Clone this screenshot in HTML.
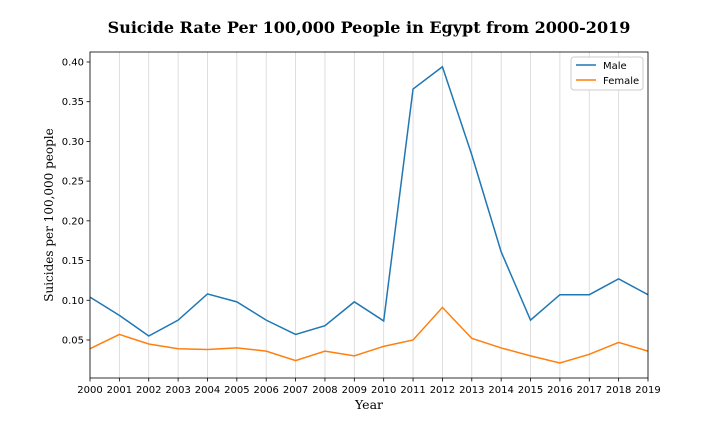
<!DOCTYPE html>
<html><head><meta charset="utf-8"><style>
body{margin:0;background:#fff;width:720px;height:432px;overflow:hidden}
text{font-family:"DejaVu Sans","Liberation Sans",sans-serif}
</style></head><body>
<svg id="chart" width="720" height="432" xmlns="http://www.w3.org/2000/svg">
<text x="369" y="33" text-anchor="middle" style="font-family:'DejaVu Serif','Liberation Serif',serif" font-size="16" font-weight="bold">Suicide Rate Per 100,000 People in Egypt from 2000-2019</text>
<g id="grid"></g><g id="series"></g><g id="axes"></g>
<text x="369" y="409" text-anchor="middle" style="font-family:'DejaVu Serif','Liberation Serif',serif" font-size="12.5">Year</text>
<text transform="translate(53,215) rotate(-90)" text-anchor="middle" style="font-family:'DejaVu Serif','Liberation Serif',serif" font-size="12">Suicides per 100,000 people</text>
<g>
<rect x="571" y="57" width="72" height="33" rx="3" fill="#fff" stroke="#ccc"/>
<line x1="576" y1="65" x2="596" y2="65" stroke="#1f77b4" stroke-width="1.5"/>
<text x="603" y="69" font-size="10">Male</text>
<line x1="576" y1="80" x2="596" y2="80" stroke="#ff7f0e" stroke-width="1.5"/>
<text x="603" y="84" font-size="10">Female</text>
</g>
</svg>
<script>
const years=[2000,2001,2002,2003,2004,2005,2006,2007,2008,2009,2010,2011,2012,2013,2014,2015,2016,2017,2018,2019];
const male=[0.104,0.081,0.055,0.075,0.108,0.098,0.075,0.057,0.068,0.098,0.074,0.366,0.394,0.283,0.161,0.075,0.107,0.107,0.127,0.107];
const female=[0.039,0.057,0.045,0.039,0.038,0.040,0.036,0.024,0.036,0.030,0.042,0.050,0.091,0.052,0.040,0.030,0.021,0.032,0.047,0.036];
const yTicks=[0.05,0.10,0.15,0.20,0.25,0.30,0.35,0.40];
const L=90,R=648,T=52,B=378;
const x=v=>L+(v-2000)*(R-L)/19;
const y=v=>379.7-v*794.3;
const ns="http://www.w3.org/2000/svg";
function mk(tag,attrs,parent){const e=document.createElementNS(ns,tag);for(const k in attrs)e.setAttribute(k,attrs[k]);document.getElementById(parent).appendChild(e);return e;}
years.forEach(yr=>{
 const g=mk('line',{x1:x(yr),x2:x(yr),y1:T,y2:B,stroke:'#d6d6d6','stroke-width':0.8},'grid');
 
 
 const t=mk('line',{x1:x(yr),x2:x(yr),y1:B,y2:B+3.5,stroke:'#000','stroke-width':0.8},'axes');
 
 
 const l=mk('text',{x:x(yr),y:B+15,'text-anchor':'middle','font-size':10},'axes');l.textContent=yr;
 
 
});
yTicks.forEach(v=>{
 const t=mk('line',{x1:L-3.5,x2:L,y1:y(v),y2:y(v),stroke:'#000','stroke-width':0.8},'axes');
 
 
 const l=mk('text',{x:L-6,y:y(v)+3.5,'text-anchor':'end','font-size':10},'axes');l.textContent=v.toFixed(2);
 
 
});
const fr=mk('rect',{x:L,y:T,width:R-L,height:B-T,fill:'none',stroke:'#000','stroke-width':0.8},'axes');


function line(vals,color,name){
 const p=mk('polyline',{points:vals.map((v,i)=>x(years[i])+','+y(v)).join(' '),fill:'none',stroke:color,'stroke-width':1.5},'series');
 
 
}
line(male,'#1f77b4','male-line');
line(female,'#ff7f0e','female-line');
</script>
</body></html>
